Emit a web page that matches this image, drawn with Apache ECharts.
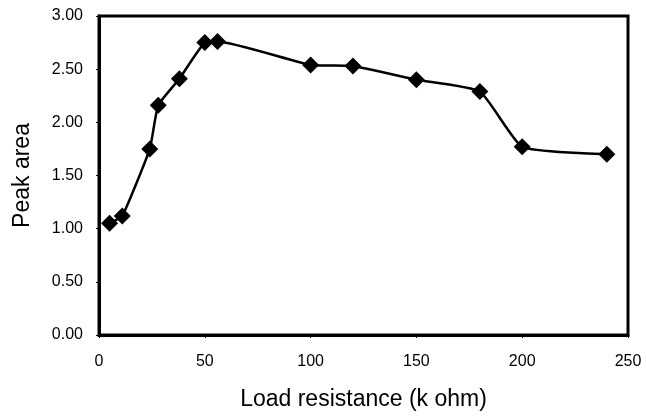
<!DOCTYPE html>
<html>
<head>
<meta charset="utf-8">
<script src="https://cdn.jsdelivr.net/npm/echarts@6/dist/echarts.min.js"></script>
<style>
  html, body { margin: 0; padding: 0; background: #fff; }
  #chart { width: 646px; height: 419px; }
</style>
</head>
<body>
<div id="chart"></div>
<script>
// load resistance (k ohm) vs peak area
const loadResistance = [5, 11, 24, 28, 38, 50, 56, 100, 120, 150, 180, 200, 240];
const peakArea = [1.05, 1.12, 1.75, 2.16, 2.41, 2.75, 2.76, 2.54, 2.53, 2.40, 2.29, 1.77, 1.70];

const xTitle = "Load resistance (k ohm)";
const yTitle = "Peak area";

const chart = echarts.init(document.getElementById("chart"));

const font = "'Liberation Sans', Arial, sans-serif";

chart.setOption({
  backgroundColor: "#fff",
  animation: false,
  grid: {
    left: 99,
    right: 18,
    top: 16,
    bottom: 84,
    show: true,
    borderColor: "#000",
    borderWidth: 3,
    backgroundColor: "transparent"
  },
  xAxis: {
    type: "value",
    min: 0,
    max: 250,
    interval: 50,
    name: xTitle,
    nameLocation: "middle",
    nameGap: 53,
    nameTextStyle: { color: "#000", fontFamily: font, fontSize: 23 },
    axisLine: { show: true, onZero: false, lineStyle: { color: "#000", width: 3 } },
    axisTick: { show: true, inside: false, length: 3, lineStyle: { color: "#000" } },
    axisLabel: { color: "#000", fontFamily: font, fontSize: 16, margin: 19 },
    splitLine: { show: false }
  },
  yAxis: {
    type: "value",
    min: 0,
    max: 3,
    interval: 0.5,
    name: yTitle,
    nameLocation: "middle",
    nameGap: 65,
    nameTextStyle: { color: "#000", fontFamily: font, fontSize: 23 },
    axisLine: { show: true, onZero: false, lineStyle: { color: "#000", width: 3 } },
    axisTick: { show: true, inside: false, length: 3, lineStyle: { color: "#000" } },
    axisLabel: {
      color: "#000",
      fontFamily: font,
      fontSize: 16,
      margin: 16,
      formatter: v => v.toFixed(2)
    },
    splitLine: { show: false }
  },
  series: [
    {
      type: "line",
      data: loadResistance.map((x, i) => [x, peakArea[i]]),
      smooth: 0.15,
      symbol: "diamond",
      symbolSize: 17,
      itemStyle: { color: "#000" },
      lineStyle: { color: "#000", width: 2.5 }
    }
  ]
});
</script>
</body>
</html>
